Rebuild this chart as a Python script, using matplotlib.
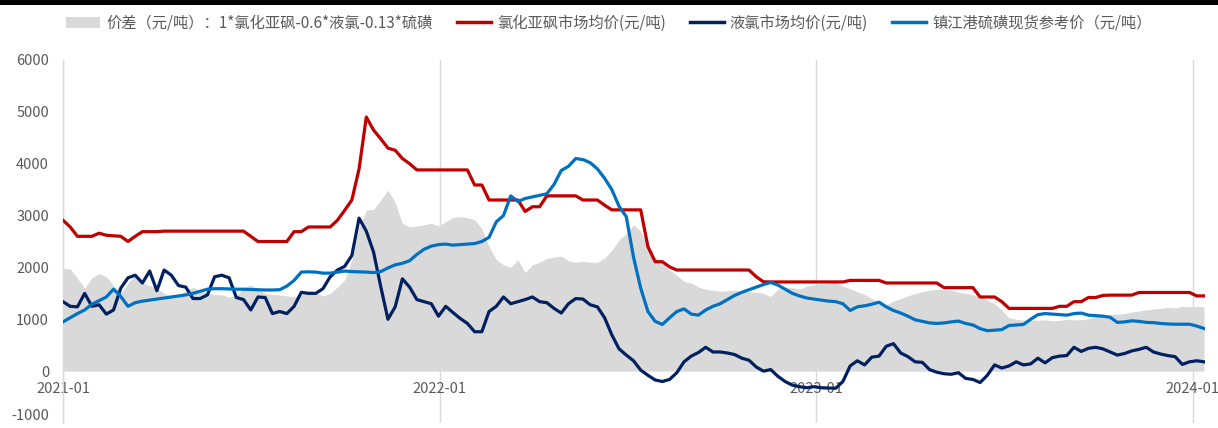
import matplotlib
matplotlib.use('Agg')
import matplotlib.pyplot as plt
import pandas as pd
from matplotlib.patches import Patch, Rectangle
from matplotlib.lines import Line2D

plt.rcParams['font.family'] = ['Noto Sans CJK SC', 'DejaVu Sans']

# ---------------- data (weekly) ----------------
dates = pd.date_range('2021-01-01', periods=159, freq='7D')

spread = [
    1980, 1970, 1790, 1600, 1800, 1880, 1820, 1650, 1500, 1700, 1840, 1700, 1650,
    1600, 1500, 1450, 1470, 1550, 1620, 1550, 1500, 1480, 1470, 1430, 1450, 1600,
    1660, 1580, 1500, 1480, 1470, 1450, 1430, 1470, 1560, 1520, 1450, 1500, 1620,
    1760, 2140, 2780, 3100, 3120, 3300, 3490, 3250, 2850, 2780, 2800, 2820, 2850,
    2800, 2880, 2960, 2980, 2960, 2920, 2750, 2400, 2150, 2050, 2000, 2150, 1900,
    2050, 2100, 2170, 2200, 2220, 2130, 2100, 2120, 2100, 2100, 2180, 2330, 2530,
    2650, 2820, 2700, 2370, 2200, 2080, 1950, 1850, 1730, 1700, 1620, 1580, 1560,
    1540, 1550, 1560, 1550, 1530, 1520, 1500, 1440, 1580, 1620, 1610, 1580, 1640,
    1660, 1680, 1700, 1720, 1640, 1590, 1530, 1480, 1400, 1330, 1280, 1350, 1400,
    1450, 1500, 1530, 1560, 1580, 1570, 1560, 1530, 1500, 1470, 1440, 1370, 1300,
    1180, 1030, 1000, 980, 990, 980, 990, 970, 980, 1000, 990, 990, 1010,
    1060, 1070, 1090, 1100, 1110, 1140, 1160, 1180, 1200, 1210, 1230, 1220, 1250,
    1240, 1250, 1240,
]

socl2 = [
    2910, 2780, 2600, 2600, 2600, 2660, 2620, 2610, 2600, 2500, 2600, 2690, 2690,
    2690, 2700, 2700, 2700, 2700, 2700, 2700, 2700, 2700, 2700, 2700, 2700, 2700,
    2600, 2500, 2500, 2500, 2500, 2500, 2690, 2690, 2780, 2780, 2780, 2780, 2910,
    3100, 3300, 3900, 4900, 4650, 4480, 4300, 4260, 4100, 4000, 3880, 3880, 3880,
    3880, 3880, 3880, 3880, 3880, 3590, 3590, 3300, 3300, 3300, 3300, 3300, 3080,
    3170, 3170, 3380, 3380, 3380, 3380, 3380, 3300, 3300, 3300, 3200, 3110, 3110,
    3110, 3110, 3110, 2400, 2110, 2110, 2010, 1950, 1950, 1950, 1950, 1950, 1950,
    1950, 1950, 1950, 1950, 1950, 1820, 1723, 1720, 1720, 1720, 1720, 1720, 1720,
    1720, 1720, 1720, 1720, 1720, 1750, 1750, 1750, 1750, 1750, 1700, 1700, 1700,
    1700, 1700, 1700, 1700, 1700, 1610, 1610, 1610, 1610, 1610, 1430, 1430, 1430,
    1340, 1210, 1210, 1210, 1210, 1210, 1210, 1210, 1250, 1250, 1340, 1340, 1420,
    1420, 1460, 1466, 1466, 1466, 1466, 1517, 1517, 1517, 1517, 1517, 1517, 1517,
    1517, 1450, 1450,
]

chlorine = [
    1340, 1250, 1240, 1500, 1250, 1280, 1100, 1180, 1600, 1800, 1850, 1700, 1930,
    1550, 1950, 1850, 1650, 1620, 1400, 1400, 1470, 1820, 1850, 1800, 1420, 1380,
    1180, 1430, 1420, 1110, 1150, 1110, 1250, 1520, 1500, 1500, 1590, 1820, 1950,
    2020, 2230, 2950, 2700, 2300, 1630, 1000, 1240, 1780, 1620, 1380, 1340, 1300,
    1060, 1250, 1130, 1016, 920, 760, 760, 1150, 1250, 1430, 1300, 1340, 1380,
    1430, 1340, 1320, 1210, 1120, 1300, 1400, 1390, 1280, 1240, 1030, 700, 430,
    310, 200, 20, -80, -170, -200, -160, -30, 180, 290, 360, 460, 370,
    370, 350, 320, 250, 210, 80, 0, 30, -100, -200, -270, -300, -320,
    -300, -320, -325, -330, -200, 100, 200, 120, 270, 290, 480, 530, 350,
    280, 180, 170, 30, -20, -50, -60, -30, -140, -160, -220, -80, 120,
    60, 100, 180, 120, 140, 250, 160, 260, 290, 300, 460, 380, 440,
    460, 430, 370, 310, 340, 390, 420, 460, 370, 330, 300, 280, 130,
    180, 200, 180,
]

sulfur = [
    950, 1030, 1110, 1180, 1290, 1360, 1430, 1580, 1440, 1250, 1320, 1350, 1370,
    1390, 1410, 1430, 1450, 1470, 1500, 1540, 1580, 1590, 1590, 1585, 1580, 1580,
    1575, 1570, 1565, 1565, 1570, 1640, 1750, 1910, 1915, 1910, 1890, 1890, 1910,
    1930, 1920, 1916, 1910, 1900, 1920, 1990, 2050, 2080, 2130, 2250, 2350, 2410,
    2440, 2450, 2430, 2440, 2450, 2460, 2500, 2580, 2880, 3000, 3380, 3270, 3330,
    3360, 3390, 3420, 3600, 3870, 3950, 4100, 4080, 4020, 3900, 3720, 3500, 3180,
    2980, 2200, 1600, 1150, 960, 900, 1030, 1150, 1200, 1100, 1080, 1180, 1250,
    1300, 1380, 1460, 1520, 1570, 1620, 1670, 1710, 1660, 1580, 1500, 1450, 1410,
    1390, 1370, 1350, 1340, 1300, 1170, 1240, 1260, 1290, 1330, 1240, 1170, 1120,
    1060, 990, 960, 930, 920, 930, 950, 965, 920, 890, 820, 780, 790,
    800, 880, 890, 900, 1000, 1090, 1110, 1100, 1090, 1080, 1110, 1120, 1080,
    1070, 1060, 1040, 940, 950, 970, 960, 940, 935, 920, 910, 905, 905,
    905, 870, 823,
]

x_ticks = ['2021-01-01', '2022-01-01', '2023-01-01', '2024-01-01']
x_tick_labels = ['2021-01', '2022-01', '2023-01', '2024-01']
y_ticks = [-1000, 0, 1000, 2000, 3000, 4000, 5000, 6000]

legend_labels = ['价差（元/吨）：1*氯化亚砜-0.6*液氯-0.13*硫磺',
                 '氯化亚砜市场均价(元/吨)',
                 '液氯市场均价(元/吨)',
                 '镇江港硫磺现货参考价（元/吨）']

# ---------------- styling ----------------
C_FILL = '#D9D9D9'
C_RED = '#C00000'
C_NAVY = '#002060'
C_BLUE = '#0070C0'
C_TEXT = '#595959'
C_GRID = '#D9D9D9'

W, H = 1218, 428
fig = plt.figure(figsize=(W / 100, H / 100), dpi=100)
fig.patch.set_facecolor('white')

ax = fig.add_axes([63 / W, 1 - 423 / H, (1205 - 63) / W, (423 - 60) / H])

ax.fill_between(dates, 0, spread, color=C_FILL, linewidth=0, zorder=1)
ax.plot(dates, socl2, color=C_RED, lw=2.3, zorder=3, solid_joinstyle='round')
ax.plot(dates, chlorine, color=C_NAVY, lw=2.3, zorder=4, solid_joinstyle='round')
ax.plot(dates, sulfur, color=C_BLUE, lw=2.3, zorder=5, solid_joinstyle='round')

ax.set_ylim(-1000, 6000)
ax.set_xlim(pd.Timestamp('2021-01-01'), pd.Timestamp('2024-01-13'))
ax.set_yticks(y_ticks)
ax.set_yticklabels([str(v) for v in y_ticks])
ax.set_xticks(pd.to_datetime(x_ticks))
ax.set_xticklabels(x_tick_labels)

ax.set_axisbelow(True)
ax.xaxis.grid(True, color=C_GRID, lw=1)
ax.yaxis.grid(False)

for s in ['top', 'right']:
    ax.spines[s].set_visible(False)
ax.spines['left'].set_color(C_GRID)
ax.spines['left'].set_linewidth(1)
ax.spines['bottom'].set_position(('data', 0))
ax.spines['bottom'].set_visible(False)

ax.tick_params(axis='both', length=0, labelsize=10.5, labelcolor=C_TEXT)
ax.tick_params(axis='y', pad=10)
ax.tick_params(axis='x', pad=8)

# keep the lowest y label inside the picture
fig.canvas.draw()
ax.get_yticklabels()[0].set_va('bottom')

handles = [
    Patch(facecolor=C_FILL, edgecolor='none'),
    Line2D([], [], color=C_RED, lw=2.5),
    Line2D([], [], color=C_NAVY, lw=2.5),
    Line2D([], [], color=C_BLUE, lw=2.5),
]
leg = fig.legend(handles, legend_labels, loc='center', bbox_to_anchor=(0.5, 1 - 23 / H),
                 ncol=4, frameon=False, fontsize=11, handlelength=2.2, handleheight=0.7,
                 handletextpad=0.4, columnspacing=1.6, borderpad=0, borderaxespad=0)
for t in leg.get_texts():
    t.set_color(C_TEXT)

# black bar along the top edge
fig.patches.append(Rectangle((0, 1 - 5 / H), 1, 5 / H, transform=fig.transFigure,
                             facecolor='black', edgecolor='none', zorder=10))

fig.savefig('out.png', dpi=100, facecolor='white')
